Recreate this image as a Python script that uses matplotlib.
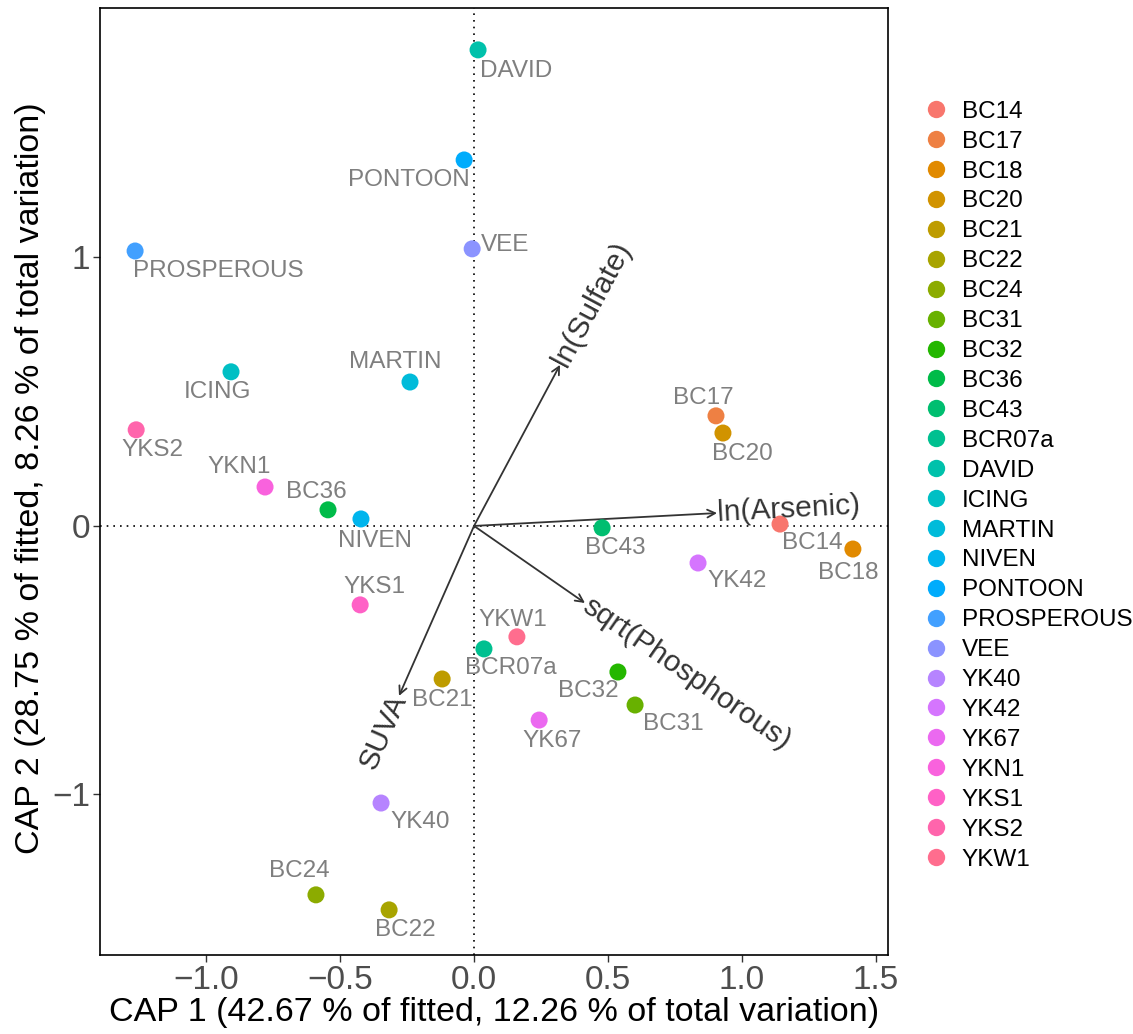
import numpy as np
import matplotlib
matplotlib.use("Agg")
import matplotlib.pyplot as plt
from matplotlib.lines import Line2D

plt.rcParams['font.family'] = ['Liberation Sans', 'DejaVu Sans']

# site scores
sites = ["BC14", "BC17", "BC18", "BC20", "BC21", "BC22", "BC24", "BC31", "BC32",
         "BC36", "BC43", "BCR07a", "DAVID", "ICING", "MARTIN", "NIVEN", "PONTOON",
         "PROSPEROUS", "VEE", "YK40", "YK42", "YK67", "YKN1", "YKS1", "YKS2", "YKW1"]
cap1 = [1.142, 0.903, 1.414, 0.929, -0.119, -0.317, -0.590, 0.601, 0.537,
        -0.545, 0.478, 0.037, 0.015, -0.907, -0.239, -0.422, -0.037,
        -1.265, -0.007, -0.347, 0.836, 0.243, -0.780, -0.425, -1.261, 0.160]
cap2 = [0.007, 0.410, -0.086, 0.346, -0.570, -1.430, -1.374, -0.667, -0.544,
        0.060, -0.007, -0.458, 1.773, 0.574, 0.536, 0.026, 1.363,
        1.024, 1.032, -1.032, -0.138, -0.723, 0.145, -0.294, 0.358, -0.413]

# environmental vectors
env_names = ["ln(Sulfate)", "ln(Arsenic)", "sqrt(Phosphorous)", "SUVA"]
env_cap1 = [0.321, 0.907, 0.414, -0.280]
env_cap2 = [0.600, 0.048, -0.287, -0.633]

# label offsets in pixels (repel-like placement)
label_offsets = {
    "BC14": (32, -19), "BC17": (-13, 18), "BC18": (-5, -24), "BC20": (19, -21),
    "BC21": (0, -21), "BC22": (16, -20), "BC24": (-17, 24), "BC31": (38, -19),
    "BC32": (-30, -19), "BC36": (-12, 18), "BC43": (13, -20), "BCR07a": (27, -19),
    "DAVID": (38, -21), "ICING": (-14, -20), "MARTIN": (-15, 20), "NIVEN": (14, -22),
    "PONTOON": (-55, -20), "PROSPEROUS": (83, -20), "VEE": (33, 4), "YK40": (39, -19),
    "YK42": (39, -18), "YK67": (13, -21), "YKN1": (-26, 20), "YKS1": (14, 18),
    "YKS2": (16, -20), "YKW1": (-4, 17),
}


def hue_pal(n, l=65, c=100, h0=15):
    hues = np.linspace(h0, h0 + 360, n + 1)[:-1]
    Xn, Yn, Zn = 95.047, 100.0, 108.883
    un = 4 * Xn / (Xn + 15 * Yn + 3 * Zn)
    vn = 9 * Yn / (Xn + 15 * Yn + 3 * Zn)
    Y = Yn * ((l + 16) / 116) ** 3
    out = []
    for h in hues:
        u = c * np.cos(np.radians(h))
        v = c * np.sin(np.radians(h))
        up = u / (13 * l) + un
        vp = v / (13 * l) + vn
        X = Y * 9 * up / (4 * vp)
        Z = Y * (12 - 3 * up - 20 * vp) / (4 * vp)
        xyz = np.array([X, Y, Z]) / 100
        M = np.array([[3.2404542, -1.5371385, -0.4985314],
                      [-0.9692660, 1.8760108, 0.0415560],
                      [0.0556434, -0.2040259, 1.0572252]])
        rgb = M @ xyz
        rgb = np.where(rgb <= 0.0031308, 12.92 * rgb,
                       1.055 * np.clip(rgb, 0, None) ** (1 / 2.4) - 0.055)
        out.append(tuple(np.clip(rgb, 0, 1)))
    return out


colors = hue_pal(len(sites))

W, H = 1133, 1034
fig = plt.figure(figsize=(W / 100, H / 100), dpi=100)
ax = fig.add_axes([100 / W, 1 - 955 / H, 788 / W, 947 / H])

ax.axhline(0, color="black", linestyle=(0, (1, 3)), linewidth=1.2, zorder=1)
ax.axvline(0, color="black", linestyle=(0, (1, 3)), linewidth=1.2, zorder=1)

for name, x, y, col in zip(sites, cap1, cap2, colors):
    ax.scatter(x, y, s=150, color=col, edgecolors="none", zorder=3)
    dx, dy = label_offsets[name]
    ax.annotate(name, (x, y), xytext=(dx, dy), textcoords="offset pixels",
                ha="center", va="center", fontsize=17.5, color="#7F7F7F", zorder=4)

for name, ex, ey in zip(env_names, env_cap1, env_cap2):
    ax.annotate("", xy=(ex, ey), xytext=(0, 0),
                arrowprops=dict(arrowstyle="->", color="#333333", lw=1.3,
                                mutation_scale=14, shrinkA=0, shrinkB=0), zorder=2)
    ang = np.degrees(np.arctan2(ey, ex))
    if ex < 0:
        ang += 180
        ha = "right"
    else:
        ha = "left"
    ax.text(ex, ey, name, rotation=ang, rotation_mode="anchor", ha=ha, va="center",
            fontsize=21.5, color="#333333", zorder=4)

ax.set_xlim(-1.396, 1.545)
ax.set_ylim(-1.598, 1.929)
ax.set_xticks([-1.0, -0.5, 0.0, 0.5, 1.0, 1.5])
ax.set_xticklabels(["\u22121.0", "\u22120.5", "0.0", "0.5", "1.0", "1.5"])
ax.set_yticks([-1, 0, 1])
ax.set_yticklabels(["\u22121", "0", "1"])
ax.tick_params(labelsize=24, labelcolor="#4D4D4D", color="#333333", length=5, width=1,
               pad=2)
for sp in ax.spines.values():
    sp.set_linewidth(1.2)

fig.text(494 / W, 1 - 1013 / H, "CAP 1 (42.67 % of fitted, 12.26 % of total variation)",
         ha="center", va="center", fontsize=24.5)
fig.text(31 / W, 1 - 478 / H, "CAP 2 (28.75 % of fitted, 8.26 % of total variation)",
         ha="center", va="center", fontsize=24.5, rotation=90)

handles = [Line2D([], [], marker="o", linestyle="none", markersize=12.5,
                  markerfacecolor=c, markeredgecolor="none") for c in colors]
fig.legend(handles, sites, loc="upper left", bbox_to_anchor=(912 / W, 1 - 91 / H),
           frameon=False, fontsize=17.5, labelspacing=0.325, handletextpad=0.45,
           handlelength=1.2, borderaxespad=0)

fig.savefig("out.png", dpi=100)
